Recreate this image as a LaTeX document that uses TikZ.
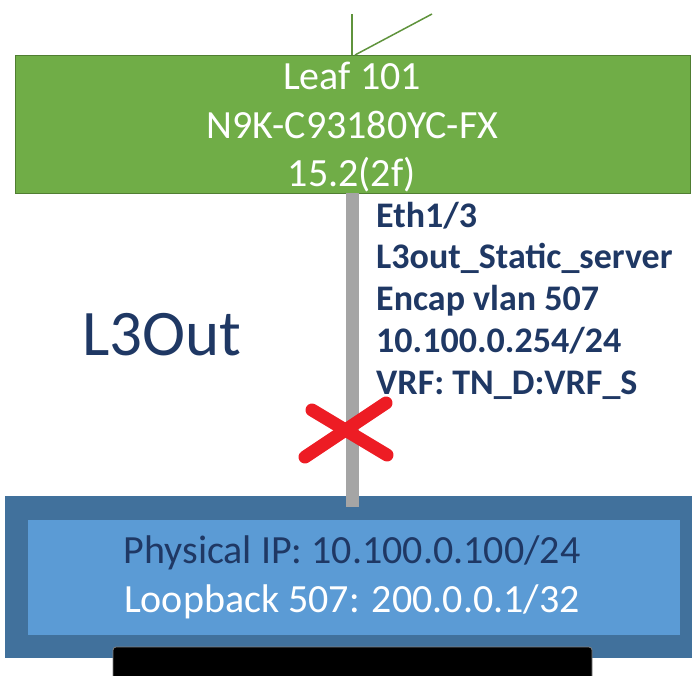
\documentclass[tikz,border=0pt]{standalone}
\usepackage{fontspec}
\setmainfont{Carlito}
\definecolor{leafgreen}{HTML}{70AD47}
\definecolor{leafborder}{HTML}{507E32}
\definecolor{linkgray}{HTML}{A5A5A5}
\definecolor{navy}{HTML}{1F3864}
\definecolor{xred}{HTML}{ED1C24}
\definecolor{srvouter}{HTML}{41719C}
\definecolor{srvinner}{HTML}{5B9BD5}
\begin{document}
\begin{tikzpicture}[x=1pt,y=-1pt,
  box/.style={rectangle, inner sep=0pt, outer sep=0pt},
  uplink/.style={draw=leafgreen!85!black, line width=1.5pt},
  txt/.style={inner sep=0pt, anchor=base, font=\fontsize{40}{46}\selectfont},
  lbl/.style={inner sep=0pt, anchor=base west, text=navy, font=\fontsize{36}{42}\selectfont\bfseries},
]
\useasboundingbox (0,0) rectangle (692,675);
% server (bottom)
\node[box, fill=srvouter, minimum width=700, minimum height=162, anchor=north west] (srv) at (5,496) {};
\node[box, fill=srvinner, minimum width=652, minimum height=115, anchor=north west] (srvin) at (28,520) {};
\node[txt, text=navy] (phys) at (352,563) {Physical IP: 10.100.0.100/24};
\node[txt, text=white] (loop) at (352,612) {Loopback 507: 200.0.0.1/32};
\draw[fill=black, draw=gray, line width=0.8pt, rounded corners=3pt] (113,690) -- (113,647) -- (592,647) -- (592,690);
% leaf
\node[box, fill=leafgreen, draw=leafborder, line width=1pt, minimum width=675, minimum height=138, anchor=north west] (leaf) at (15,55) {};
\node[txt, text=white] (l1) at (352,89) {Leaf 101};
\node[txt, text=white] (l2) at (352,138) {N9K-C93180YC-FX};
\node[txt, text=white] (l3) at (352,186) {15.2(2f)};
% uplinks (free ends)
\coordinate (up1) at (352,14);
\coordinate (up2) at (432,14);
\draw[uplink] (leaf.north -| up1) -- (up1);
\draw[uplink] (355,55) -- (up2);
% link to server
\coordinate (linkend) at (352.5,507);
\draw[linkgray, line width=13pt] (leaf.south -| linkend) -- (linkend);
% labels
\node[lbl] (e1) at (376,227) {Eth1/3};
\node[lbl] (e2) at (376,268) {L3out\_Static\_server};
\node[lbl] (e3) at (376,310) {Encap vlan 507};
\node[lbl] (e4) at (376,352) {10.100.0.254/24};
\node[lbl] (e5) at (376,394) {VRF: TN\_D:VRF\_S};
\node[inner sep=0pt, anchor=base west, text=navy, font=\fontsize{65}{72}\selectfont] (l3out) at (82,355) {L3Out};
% red X
\draw[xred, line width=13pt, line cap=round] (312,410) -- (387,455);
\draw[xred, line width=13pt, line cap=round] (305,457) -- (386,403);
\end{tikzpicture}
\end{document}
